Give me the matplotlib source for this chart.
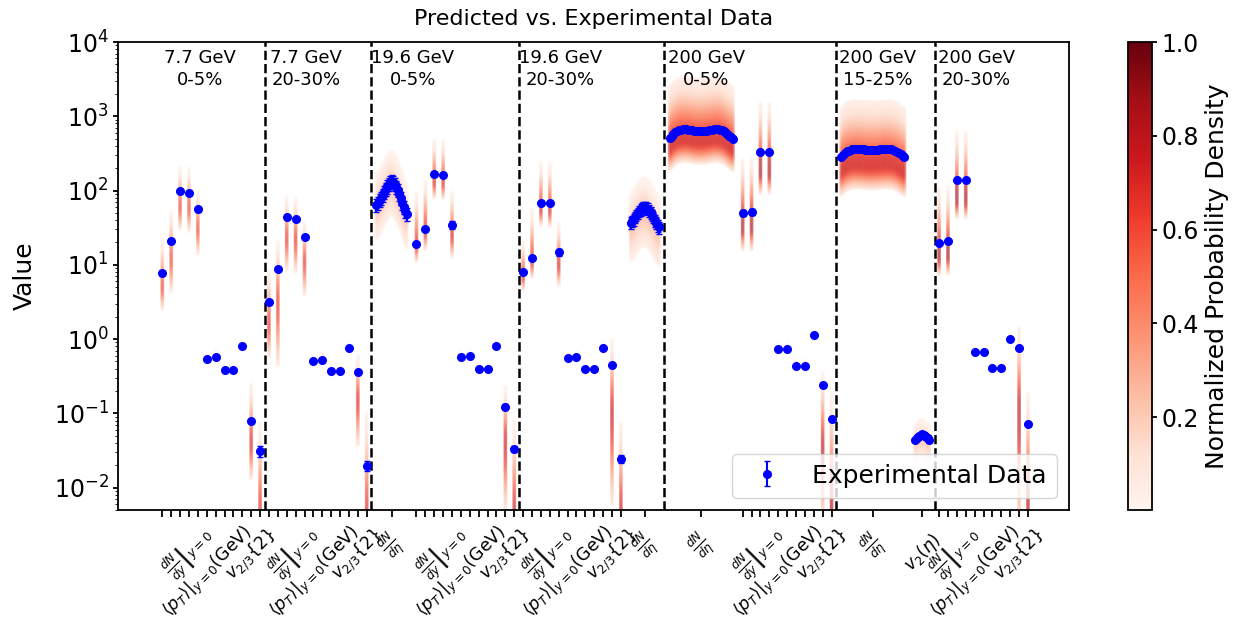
import numpy as np
import matplotlib
matplotlib.use("Agg")
import matplotlib.pyplot as plt
from matplotlib.colors import Normalize
from matplotlib.cm import ScalarMappable

# ---------------- measured observables ----------------
# scalar blocks: dN/dy (identified hadrons), <pT>, v2{2}, v3{2}
exp_77_0005 = [7.7, 21, 100, 94, 56, 0.54, 0.57, 0.38, 0.38, 0.80, 0.079, 0.031]
err_77_0005 = [0.4, 1.0, 4, 4, 4, 0.01, 0.01, 0.01, 0.01, 0.02, 0.004, 0.005]
exp_77_2030 = [3.2, 8.7, 43.5, 41, 23.5, 0.51, 0.53, 0.37, 0.37, 0.75, 0.36, 0.0196]
err_77_2030 = [0.2, 0.4, 2, 2, 1.5, 0.01, 0.01, 0.01, 0.01, 0.02, 0.01, 0.003]
exp_196_0005 = [18.9, 30, 167, 163, 34.5, 0.58, 0.59, 0.40, 0.40, 0.81, 0.123, 0.033]
err_196_0005 = [1.0, 1.5, 8, 8, 4, 0.01, 0.01, 0.01, 0.01, 0.02, 0.01, 0.003]
exp_196_2030 = [8.0, 12.5, 68.5, 68, 14.9, 0.55, 0.57, 0.39, 0.39, 0.77, 0.45, 0.0243]
err_196_2030 = [0.4, 0.8, 3, 3, 1.6, 0.01, 0.01, 0.01, 0.01, 0.02, 0.01, 0.003]
exp_200_0005 = [50.5, 52, 330, 330, 0.73, 0.73, 0.435, 0.435, 1.12, 0.241, 0.083]
err_200_0005 = [5, 5, 20, 20, 0.02, 0.02, 0.01, 0.01, 0.03, 0.01, 0.004]
exp_200_2030 = [19.9, 20.7, 137, 137, 0.676, 0.676, 0.41, 0.41, 1.0, 0.766, 0.072]
err_200_2030 = [1.0, 1.0, 6, 6, 0.02, 0.02, 0.01, 0.01, 0.03, 0.02, 0.004]

# pseudorapidity-dependent observables
dndeta_196_0005 = [64, 68, 74, 80, 88, 96, 105, 114, 123, 130, 134, 130, 122,
                   112, 101, 90, 79, 69, 60, 53, 48]
dndeta_196_2030 = [37, 39, 41, 44, 47, 50, 53, 56, 58, 60, 60, 59, 57, 54, 51,
                   47, 44, 40, 37, 34, 32]
dndeta_200_0005 = [505, 540, 575, 605, 630, 648, 660, 667, 670, 668, 663, 656,
                   648, 640, 634, 630, 628, 628, 630, 634, 640, 647, 655, 662,
                   667, 669, 667, 660, 648, 630, 605, 575, 545, 520, 500]
dndeta_200_1525 = [285, 305, 322, 336, 346, 353, 358, 361, 362, 362, 361, 359,
                   357, 355, 353, 352, 351, 351, 352, 353, 355, 357, 359, 361,
                   362, 362, 360, 357, 352, 345, 335, 322, 307, 295, 285]
v2eta_200_1525 = [0.044, 0.046, 0.048, 0.050, 0.051, 0.052, 0.051, 0.050,
                  0.048, 0.046, 0.044]
# relative uncertainty of each eta-dependent curve
relerr_196_0005 = 0.2
relerr_196_2030 = 0.18
relerr_200_0005 = 0.08
relerr_200_1525 = 0.06
relerr_v2eta = 0.06

# ---------------- model predictions (lower edge, mode, upper edge) ----------
pred_lo_77_0005 = [2.5, 4.3, 30, 28, 14, 0.47, 0.50, 0.33, 0.33, 0.70, 0.013, 0.001]
pred_md_77_0005 = [5, 12, 60, 58, 30, 0.55, 0.59, 0.39, 0.39, 0.82, 0.04, 0.004]
pred_hi_77_0005 = [23, 54, 210, 200, 100, 0.66, 0.70, 0.46, 0.46, 0.95, 0.25, 0.075]

pred_lo_77_2030 = [0.57, 0.44, 8.5, 8, 3.9, 0.45, 0.47, 0.32, 0.33, 0.66, 0.037, 0.001]
pred_md_77_2030 = [1.6, 3, 22, 21, 11, 0.52, 0.55, 0.38, 0.38, 0.77, 0.15, 0.004]
pred_hi_77_2030 = [8.5, 21, 82, 80, 37, 0.62, 0.65, 0.45, 0.45, 0.90, 0.6, 0.1]

pred_lo_196_0005 = [11, 16, 79, 77, 12.7, 0.51, 0.52, 0.35, 0.35, 0.72, 0.005, 0.001]
pred_md_196_0005 = [18, 28, 130, 128, 25, 0.59, 0.60, 0.40, 0.41, 0.83, 0.04, 0.004]
pred_hi_196_0005 = [92, 140, 480, 470, 95, 0.70, 0.71, 0.48, 0.48, 0.97, 0.23, 0.08]

pred_lo_196_2030 = [4.6, 6.8, 34, 33, 5.3, 0.48, 0.50, 0.34, 0.34, 0.68, 0.006, 0.001]
pred_md_196_2030 = [7, 11, 55, 54, 10, 0.56, 0.58, 0.39, 0.39, 0.79, 0.1, 0.004]
pred_hi_196_2030 = [20, 55, 240, 235, 36, 0.66, 0.68, 0.46, 0.46, 0.93, 1.0, 0.075]

pred_lo_200_0005 = [16, 16, 92, 92, 0.64, 0.64, 0.38, 0.38, 0.98, 0.004, 0.001]
pred_md_200_0005 = [32, 33, 180, 180, 0.75, 0.75, 0.45, 0.45, 1.15, 0.03, 0.006]
pred_hi_200_0005 = [260, 265, 1500, 1500, 0.88, 0.88, 0.53, 0.53, 1.35, 0.35, 0.19]

pred_lo_200_2030 = [7.3, 7.5, 43, 43, 0.60, 0.60, 0.36, 0.36, 0.88, 0.003, 0.001]
pred_md_200_2030 = [13, 13.5, 75, 75, 0.69, 0.69, 0.42, 0.42, 1.02, 0.1, 0.006]
pred_hi_200_2030 = [108, 110, 620, 620, 0.80, 0.80, 0.50, 0.50, 1.20, 1.45, 0.19]

# peak normalised density of each group: (dN/dy, <pT>, v_n)
peak_77_0005 = (0.6, 0.15, 0.7)
peak_77_2030 = (0.65, 0.15, 0.7)
peak_196_0005 = (0.7, 0.15, 0.75)
peak_196_2030 = (0.7, 0.15, 0.75)
peak_200_0005 = (0.85, 0.15, 0.8)
peak_200_2030 = (0.85, 0.15, 0.8)

# prediction bands of the eta-dependent curves, as multiples of the data
# (lower edge, mode, upper edge, peak density)
band_196_0005 = (0.35, 0.9, 2.6, 0.22)
band_196_2030 = (0.3, 0.85, 2.5, 0.22)
band_200_0005 = (0.37, 0.7, 5.0, 0.7)
band_200_1525 = (0.3, 0.6, 4.5, 0.7)
band_v2eta = (0.5, 0.9, 1.6, 0.2)

system_labels = ["7.7 GeV\n0-5%", "7.7 GeV\n20-30%", "19.6 GeV\n0-5%",
                 "19.6 GeV\n20-30%", "200 GeV\n0-5%", "200 GeV\n15-25%",
                 "200 GeV\n20-30%"]

lbl_dndy = r"$\left.\frac{dN}{dy}\right|_{y=0}$"
lbl_pt = r"$\langle p_T\rangle|_{y=0}$(GeV)"
lbl_vn = r"$v_{2/3}\{2\}$"
lbl_dndeta = r"$\frac{dN}{d\eta}$"
lbl_v2eta = r"$v_2(\eta)$"

# ---------------- layout along x ----------------
def scalar(vals, errs, lo, md, hi, peaks, n_dndy):
    return ("scalar", vals, errs, lo, md, hi, peaks, n_dndy)


def curve(vals, relerr, band, width, lbl):
    return ("curve", vals, relerr, band, width, lbl)


blocks = [
    [scalar(exp_77_0005, err_77_0005, pred_lo_77_0005, pred_md_77_0005, pred_hi_77_0005, peak_77_0005, 5)],
    [scalar(exp_77_2030, err_77_2030, pred_lo_77_2030, pred_md_77_2030, pred_hi_77_2030, peak_77_2030, 5)],
    [curve(dndeta_196_0005, relerr_196_0005, band_196_0005, 4.6, lbl_dndeta),
     scalar(exp_196_0005, err_196_0005, pred_lo_196_0005, pred_md_196_0005, pred_hi_196_0005, peak_196_0005, 5)],
    [scalar(exp_196_2030, err_196_2030, pred_lo_196_2030, pred_md_196_2030, pred_hi_196_2030, peak_196_2030, 5),
     curve(dndeta_196_2030, relerr_196_2030, band_196_2030, 4.4, lbl_dndeta)],
    [curve(dndeta_200_0005, relerr_200_0005, band_200_0005, 8.3, lbl_dndeta),
     scalar(exp_200_0005, err_200_0005, pred_lo_200_0005, pred_md_200_0005, pred_hi_200_0005, peak_200_0005, 4)],
    [curve(dndeta_200_1525, relerr_200_1525, band_200_1525, 8.3, lbl_dndeta),
     curve(v2eta_200_1525, relerr_v2eta, band_v2eta, 2.8, lbl_v2eta)],
    [scalar(exp_200_2030, err_200_2030, pred_lo_200_2030, pred_md_200_2030, pred_hi_200_2030, peak_200_2030, 4)],
]

ex, ey, ee = [], [], []
bx, by, bd = [], [], []
ticks = []
labels = []          # (x, text, pixel offset below the axis)
dividers, block_starts = [], []


def add_band(x, lo, md, hi, peak, per_decade=70):
    n = max(int((np.log10(hi) - np.log10(lo)) * per_decade), 8)
    y = np.logspace(np.log10(lo), np.log10(hi), n)
    ly, lm = np.log10(y), np.log10(md)
    s_dn = (lm - np.log10(lo)) / 1.9
    s_up = (np.log10(hi) - lm) / 2.3
    s = np.where(ly < lm, s_dn, s_up)
    d = peak * np.exp(-0.5 * ((ly - lm) / s) ** 2)
    bx.extend([x] * n)
    by.extend(y)
    bd.extend(d)


cursor = -0.5
for bi, block in enumerate(blocks):
    if bi > 0:
        dividers.append(cursor)
    block_starts.append(cursor)
    for seg in block:
        if seg[0] == "scalar":
            _, vals, errs, lo, md, hi, peaks, n_dndy = seg
            x0 = cursor + 0.5
            xs = x0 + np.arange(len(vals))
            for k in range(len(vals)):
                grp = 0 if k < n_dndy else (2 if k >= len(vals) - 2 else 1)
                add_band(xs[k], lo[k], md[k], hi[k], peaks[grp])
            ex.extend(xs); ey.extend(vals); ee.extend(errs)
            ticks.extend(xs)
            labels.append((x0 + n_dndy - 2, lbl_dndy, 44))
            labels.append((x0 + n_dndy + 0.2, lbl_pt, 62))
            labels.append((x0 + len(vals) - 2, lbl_vn, 45))
            cursor += len(vals)
        else:
            _, vals, relerr, band, width, lbl = seg
            m = 0.6
            xs = np.linspace(cursor + m, cursor + width - m, len(vals))
            f_lo, f_md, f_hi, pk = band
            for xv, v in zip(xs, vals):
                add_band(xv, v * f_lo, v * f_md, v * f_hi, pk)
            ex.extend(xs); ey.extend(vals)
            ee.extend([v * relerr for v in vals])
            ticks.append(cursor + width / 2)
            labels.append((cursor + width / 2, lbl, 36 if lbl == lbl_dndeta else 43))
            cursor += width

# ---------------- figure ----------------
fig = plt.figure(figsize=(12.48, 6.25), dpi=100)
ax = fig.add_axes([0.0948, 0.184, 0.762, 0.7488])
cax = fig.add_axes([0.9038, 0.184, 0.0192, 0.7488])

cmap = plt.get_cmap("Reds")
norm = Normalize(vmin=0.002, vmax=1.0)
ax.scatter(bx, by, c=bd, cmap=cmap, norm=norm, s=8, marker="o",
           linewidths=0, alpha=0.27, zorder=1)

ax.errorbar(ex, ey, yerr=ee, fmt="o", color="blue", ms=5.5, capsize=2.5,
            elinewidth=1.5, label="Experimental Data", zorder=3)

for d in dividers:
    ax.axvline(d, color="black", ls="--", lw=1.8, zorder=2)

for bi, lab in enumerate(system_labels):
    ax.text(block_starts[bi] + 4.7, 0.985, lab, transform=ax.get_xaxis_transform(),
            ha="center", va="top", fontsize=13, linespacing=1.25)

ax.set_yscale("log")
ax.set_ylim(5e-3, 1e4)
ax.set_xlim(-4.95, 102.05)
ax.set_xticks(ticks)
ax.tick_params(axis="x", length=5, width=1.3, labelbottom=False)
for xl, txt, off in labels:
    ax.annotate(txt, xy=(xl, 0), xycoords=("data", "axes fraction"),
                xytext=(0, -off), textcoords="offset pixels",
                rotation=45, ha="center", va="center", fontsize=12.5,
                annotation_clip=False)
ax.tick_params(axis="y", labelsize=17, width=1.3)
ax.set_ylabel("Value", fontsize=18, labelpad=12)
ax.set_title("Predicted vs. Experimental Data", fontsize=16, pad=12)
for sp in ax.spines.values():
    sp.set_linewidth(1.3)
ax.legend(loc="lower right", fontsize=18)

cb = fig.colorbar(ScalarMappable(norm=norm, cmap=cmap), cax=cax)
cb.set_label("Normalized Probability Density", fontsize=18)
cb.ax.tick_params(labelsize=17, width=1.3)
cb.outline.set_linewidth(1.3)

fig.savefig("out.png", dpi=100)
